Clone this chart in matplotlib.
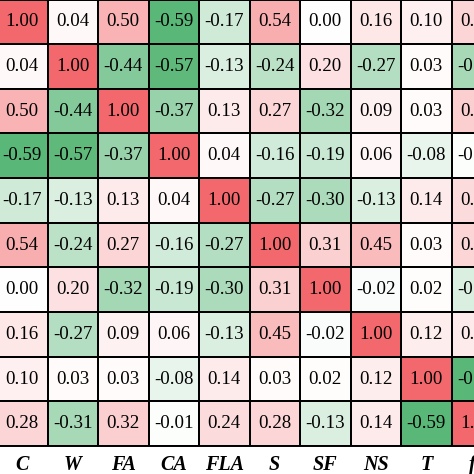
import numpy as np
import matplotlib
matplotlib.use("Agg")
import matplotlib.pyplot as plt
from matplotlib.colors import LinearSegmentedColormap, TwoSlopeNorm

labels = ["C", "W", "FA", "CA", "FLA", "S", "SF", "NS", "T", "fc"]

corr = [
    [1.00, 0.04, 0.50, -0.59, -0.17, 0.54, 0.00, 0.16, 0.10, 0.28],
    [0.04, 1.00, -0.44, -0.57, -0.13, -0.24, 0.20, -0.27, 0.03, -0.31],
    [0.50, -0.44, 1.00, -0.37, 0.13, 0.27, -0.32, 0.09, 0.03, 0.32],
    [-0.59, -0.57, -0.37, 1.00, 0.04, -0.16, -0.19, 0.06, -0.08, -0.01],
    [-0.17, -0.13, 0.13, 0.04, 1.00, -0.27, -0.30, -0.13, 0.14, 0.24],
    [0.54, -0.24, 0.27, -0.16, -0.27, 1.00, 0.31, 0.45, 0.03, 0.28],
    [0.00, 0.20, -0.32, -0.19, -0.30, 0.31, 1.00, -0.02, 0.02, -0.13],
    [0.16, -0.27, 0.09, 0.06, -0.13, 0.45, -0.02, 1.00, 0.12, 0.14],
    [0.10, 0.03, 0.03, -0.08, 0.14, 0.03, 0.02, 0.12, 1.00, -0.59],
    [0.28, -0.31, 0.32, -0.01, 0.24, 0.28, -0.13, 0.14, -0.59, 1.00],
]
corr = np.array(corr)

cmap = LinearSegmentedColormap.from_list("gwr", ["#56b675", "#ffffff", "#f3686c"])
norm = TwoSlopeNorm(vmin=-0.6, vcenter=0.0, vmax=1.0)

W, H = 474, 474
fig = plt.figure(figsize=(W / 100, H / 100), dpi=100)
# heatmap is cropped on the left/right/top like the reference
ax = fig.add_axes([-3 / W, 28 / H, 505 / W, 446.5 / H])

n = len(labels)
ax.pcolormesh(np.arange(n + 1), np.arange(n + 1), corr, cmap=cmap, norm=norm,
              edgecolors="black", linewidth=1.4)
ax.set_xlim(0, n)
ax.set_ylim(n, 0)

for i in range(n):
    for j in range(n):
        ax.text(j + 0.5, i + 0.5, "%.2f" % corr[i, j], ha="center", va="center",
                fontsize=13.6, family="Liberation Serif", color="black")

ax.set_xticks(np.arange(n) + 0.5)
ax.set_xticklabels(labels, family="Liberation Serif", fontweight="bold",
                   fontstyle="italic", fontsize=14.5)
ax.set_yticks([])
ax.tick_params(axis="x", length=0, pad=6.5)
for s in ax.spines.values():
    s.set_linewidth(1.4)

plt.savefig("out.png", dpi=100)
